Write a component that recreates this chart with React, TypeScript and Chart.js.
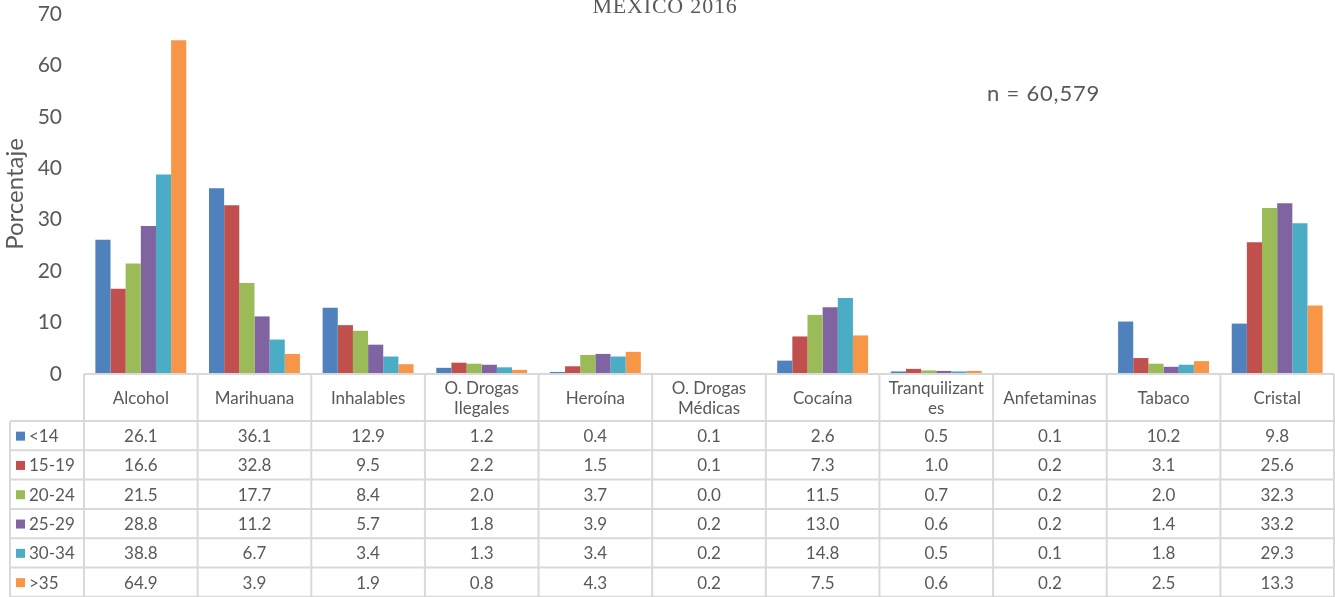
import React, { useEffect, useRef } from "react";
import { Chart, registerables } from "chart.js";

Chart.register(...registerables);

const categories: (string | string[])[] = [
  "Alcohol",
  "Marihuana",
  "Inhalables",
  ["O. Drogas", "Ilegales"],
  "Heroína",
  ["O. Drogas", "Médicas"],
  "Cocaína",
  ["Tranquilizant", "es"],
  "Anfetaminas",
  "Tabaco",
  "Cristal",
];

const seriesLabels = ["<14", "15-19", "20-24", "25-29", "30-34", ">35"];
const seriesColors = ["#4F81BD", "#C0504D", "#9BBB59", "#8064A2", "#4BACC6", "#F79646"];

const ageLt14 = [26.1, 36.1, 12.9, 1.2, 0.4, 0.1, 2.6, 0.5, 0.1, 10.2, 9.8];
const age15to19 = [16.6, 32.8, 9.5, 2.2, 1.5, 0.1, 7.3, 1.0, 0.2, 3.1, 25.6];
const age20to24 = [21.5, 17.7, 8.4, 2.0, 3.7, 0.0, 11.5, 0.7, 0.2, 2.0, 32.3];
const age25to29 = [28.8, 11.2, 5.7, 1.8, 3.9, 0.2, 13.0, 0.6, 0.2, 1.4, 33.2];
const age30to34 = [38.8, 6.7, 3.4, 1.3, 3.4, 0.2, 14.8, 0.5, 0.1, 1.8, 29.3];
const ageGt35 = [64.9, 3.9, 1.9, 0.8, 4.3, 0.2, 7.5, 0.6, 0.2, 2.5, 13.3];

const seriesValues = [ageLt14, age15to19, age20to24, age25to29, age30to34, ageGt35];

const yTicksMin = 0;
const yTicksMax = 70;
const yTicksStep = 10;

const titleText = "MEXICO 2016";
const noteText = "n = 60,579";
const yTitle = "Porcentaje";

const W = 1335;
const H = 597;
const TEXT = "#595959";
const GRID = "#D9D9D9";
const FONT = "Lato, 'Open Sans', sans-serif";

const tablePlugin = {
  id: "dataTable",
  afterDraw(chart: any) {
    const ctx: CanvasRenderingContext2D = chart.ctx;
    const xs = chart.scales.x;
    const area = chart.chartArea;
    const n = categories.length;
    const colW = (area.right - area.left) / n;
    const top = area.bottom;
    const headerH = 47;
    const rowH = 29.3;
    const legendLeft = 10;
    const rows = seriesValues.length;
    const bottom = top + headerH + rowH * rows;

    ctx.save();
    ctx.strokeStyle = GRID;
    ctx.lineWidth = 2;
    ctx.beginPath();
    ctx.moveTo(area.left, top);
    ctx.lineTo(area.right, top);
    for (let r = 0; r <= rows; r++) {
      const y = top + headerH + r * rowH;
      ctx.moveTo(legendLeft, y);
      ctx.lineTo(area.right, y);
    }
    for (let c = 0; c <= n; c++) {
      const x = area.left + c * colW;
      ctx.moveTo(x, top);
      ctx.lineTo(x, bottom);
    }
    ctx.moveTo(legendLeft, top + headerH);
    ctx.lineTo(legendLeft, bottom);
    ctx.stroke();

    ctx.fillStyle = TEXT;
    ctx.font = `17px ${FONT}`;
    ctx.textAlign = "center";
    ctx.textBaseline = "middle";
    for (let c = 0; c < n; c++) {
      const cx = xs.getPixelForValue(c);
      const lab = categories[c];
      const cy = top + headerH / 2 + 1;
      if (Array.isArray(lab)) {
        ctx.fillText(lab[0], cx, cy - 10);
        ctx.fillText(lab[1], cx, cy + 10);
      } else {
        ctx.fillText(lab, cx, cy);
      }
    }
    for (let r = 0; r < rows; r++) {
      const cy = top + headerH + r * rowH + rowH / 2 + 1;
      for (let c = 0; c < n; c++) {
        const cx = xs.getPixelForValue(c);
        ctx.fillText(seriesValues[r][c].toFixed(1), cx, cy);
      }
      ctx.fillStyle = seriesColors[r];
      ctx.fillRect(16, cy - 5, 9, 9);
      ctx.fillStyle = TEXT;
      ctx.textAlign = "left";
      ctx.fillText(seriesLabels[r], 29, cy);
      ctx.textAlign = "center";
    }

    ctx.font = `22px 'Liberation Serif', serif`;
    (ctx as any).letterSpacing = "0.8px";
    ctx.textBaseline = "alphabetic";
    ctx.fillText(titleText, 665, 13);
    (ctx as any).letterSpacing = "0px";

    ctx.font = `22px ${FONT}`;
    (ctx as any).letterSpacing = "0.8px";
    ctx.textAlign = "left";
    ctx.textBaseline = "middle";
    ctx.fillText(noteText, 987, 94);
    (ctx as any).letterSpacing = "0px";
    ctx.restore();
  },
};

export default function App() {
  const ref = useRef<HTMLCanvasElement | null>(null);
  useEffect(() => {
    if (!ref.current) return;
    const chart = new Chart(ref.current, {
      type: "bar",
      data: {
        labels: categories as any,
        datasets: seriesValues.map((vals, i) => ({
          label: seriesLabels[i],
          data: vals,
          backgroundColor: seriesColors[i],
          borderWidth: 0,
          categoryPercentage: 0.8,
          barPercentage: 1.0,
        })),
      },
      options: {
        animation: false,
        responsive: false,
        maintainAspectRatio: false,
        layout: { padding: { left: 0, right: 1, top: 14, bottom: H - 374 } },
        plugins: {
          legend: { display: false },
          tooltip: { enabled: false },
          title: { display: false },
        },
        scales: {
          x: {
            display: false,
            grid: { display: false },
          },
          y: {
            min: yTicksMin,
            max: yTicksMax,
            afterFit: (scale: any) => {
              scale.width = 84;
              scale.paddingTop = 0;
              scale.paddingBottom = 0;
            },
            ticks: {
              stepSize: yTicksStep,
              color: TEXT,
              font: { family: FONT, size: 21 },
              padding: 22,
            },
            grid: { display: false, drawTicks: false },
            border: { display: false },
            title: {
              display: true,
              text: yTitle,
              color: TEXT,
              font: { family: FONT, size: 24 },
              padding: { top: 1, bottom: 0 },
            },
          },
        },
      },
      plugins: [tablePlugin],
    });
    return () => chart.destroy();
  }, []);
  return (
    <div style={{ position: "fixed", left: 0, top: 0, width: W, height: H, background: "#fff" }}>
      <canvas ref={ref} width={W} height={H} style={{ width: W, height: H, display: "block" }} />
    </div>
  );
}
